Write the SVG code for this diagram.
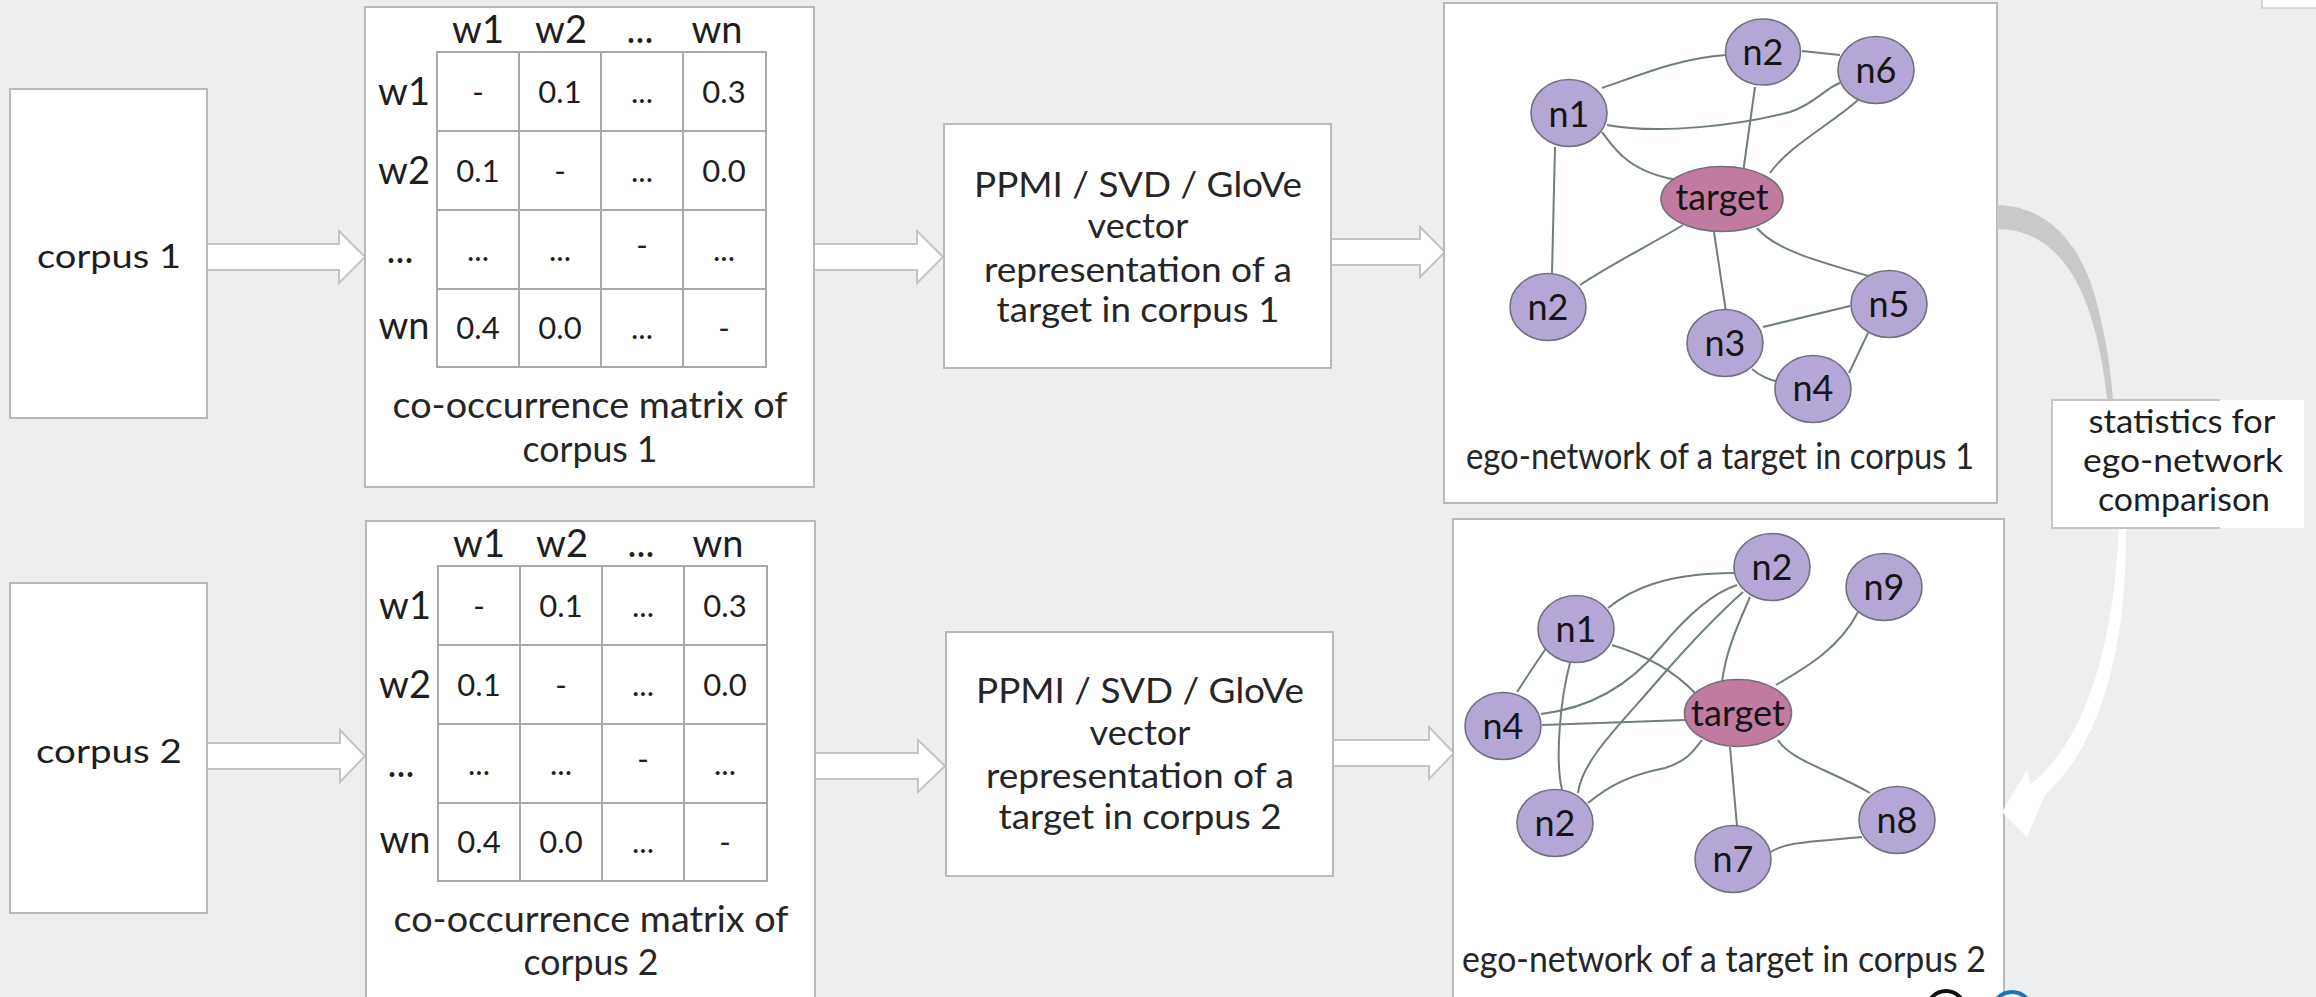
<svg xmlns="http://www.w3.org/2000/svg" width="2316" height="997" viewBox="0 0 2316 997">
  <style>
    .bg { fill: #edeef0; }
    .box { fill: #ffffff; stroke: #b9b9b9; stroke-width: 2; }
    .grid { fill: none; stroke: #a9a9a9; stroke-width: 2; }
    .block { fill: #ffffff; stroke: #c4c4c4; stroke-width: 2; stroke-linejoin: miter; }
    .txt { font-family: "Lato", "Liberation Sans", sans-serif; fill: #1e1e1e; text-anchor: middle; }
    .thin { font-family: "Lato", "Liberation Sans", sans-serif; font-weight: 400; fill: #262626; text-anchor: middle; }
    .hdr { font-size: 38px; }
    .cell { font-size: 31px; }
    .cap { font-size: 37px; }
    .ppmi { font-size: 35px; }
    .node { fill: #b4a7d6; stroke: #70707c; stroke-width: 1.6; }
    .ego { fill: #c27ba0; stroke: #70707c; stroke-width: 1.6; }
    .nlbl { font-family: "Lato", "Liberation Sans", sans-serif; font-size: 36px; fill: #151515; text-anchor: middle; }
    .edge { fill: none; stroke: #6f7f7c; stroke-width: 2; }
  </style>

  <rect class="bg" x="0" y="0" width="2316" height="997"/>

  <!-- flow connectors: hollow block arrows -->
  <g id="connectors">
    <path class="block" d="M207,244 H339 V231 L365,257 L339,283 V270 H207 Z"/>
    <path class="block" d="M814,244 H917 V231 L943,257 L917,283 V270 H814 Z"/>
    <path class="block" d="M1331,239 H1420 V227 L1445,252 L1420,277 V265 H1331 Z"/>
    <path class="block" d="M207,743 H340 V730 L365,756 L340,782 V769 H207 Z"/>
    <path class="block" d="M815,753 H918 V740 L945,766 L918,792 V779 H815 Z"/>
    <path class="block" d="M1333,740 H1429 V727 L1454,753 L1429,779 V766 H1333 Z"/>
  </g>

  <!-- corpus inputs -->
  <g id="corpus1">
    <rect class="box" x="10" y="89" width="197" height="329"/>
    <text class="txt" x="109" y="268" font-size="33" textLength="144" lengthAdjust="spacingAndGlyphs">corpus 1</text>
  </g>
  <g id="corpus2">
    <rect class="box" x="10" y="583" width="197" height="330"/>
    <text class="txt" x="109" y="763" font-size="33" textLength="146" lengthAdjust="spacingAndGlyphs">corpus 2</text>
  </g>

  <!-- co-occurrence matrix, corpus 1 -->
  <g id="matrix1">
    <rect class="box" x="365" y="7" width="449" height="480"/>
    <path class="grid" d="M437,52 H766 V367 H437 Z M519,52 V367 M601,52 V367 M683,52 V367 M437,131 H766 M437,210 H766 M437,289 H766"/>
    <g class="txt hdr">
      <text x="478" y="43">w1</text><text x="561" y="43">w2</text><text x="640" y="43">...</text><text x="717" y="43">wn</text>
      <text x="404" y="105">w1</text><text x="404" y="184">w2</text><text x="400" y="263">...</text><text x="404" y="339">wn</text>
    </g>
    <g class="txt cell">
      <text x="478" y="103">-</text><text x="560" y="103">0.1</text><text x="642" y="103">...</text><text x="724" y="103">0.3</text>
      <text x="478" y="182">0.1</text><text x="560" y="182">-</text><text x="642" y="182">...</text><text x="724" y="182">0.0</text>
      <text x="478" y="261">...</text><text x="560" y="261">...</text><text x="642" y="256">-</text><text x="724" y="261">...</text>
      <text x="478" y="339">0.4</text><text x="560" y="339">0.0</text><text x="642" y="339">...</text><text x="724" y="339">-</text>
    </g>
    <text class="thin cap" x="590" y="418" textLength="395" lengthAdjust="spacingAndGlyphs">co-occurrence matrix of</text>
    <text class="thin cap" x="590" y="462" textLength="135" lengthAdjust="spacingAndGlyphs">corpus 1</text>
  </g>

  <!-- co-occurrence matrix, corpus 2 -->
  <g id="matrix2">
    <rect class="box" x="366" y="521" width="449" height="490"/>
    <path class="grid" d="M438,566 H767 V881 H438 Z M520,566 V881 M602,566 V881 M684,566 V881 M438,645 H767 M438,724 H767 M438,803 H767"/>
    <g class="txt hdr">
      <text x="479" y="557">w1</text><text x="562" y="557">w2</text><text x="641" y="557">...</text><text x="718" y="557">wn</text>
      <text x="405" y="619">w1</text><text x="405" y="698">w2</text><text x="401" y="777">...</text><text x="405" y="853">wn</text>
    </g>
    <g class="txt cell">
      <text x="479" y="617">-</text><text x="561" y="617">0.1</text><text x="643" y="617">...</text><text x="725" y="617">0.3</text>
      <text x="479" y="696">0.1</text><text x="561" y="696">-</text><text x="643" y="696">...</text><text x="725" y="696">0.0</text>
      <text x="479" y="775">...</text><text x="561" y="775">...</text><text x="643" y="770">-</text><text x="725" y="775">...</text>
      <text x="479" y="853">0.4</text><text x="561" y="853">0.0</text><text x="643" y="853">...</text><text x="725" y="853">-</text>
    </g>
    <text class="thin cap" x="591" y="932" textLength="395" lengthAdjust="spacingAndGlyphs">co-occurrence matrix of</text>
    <text class="thin cap" x="591" y="975" textLength="135" lengthAdjust="spacingAndGlyphs">corpus 2</text>
  </g>

  <!-- vector representation steps -->
  <g id="vectors1">
    <rect class="box" x="944" y="124" width="387" height="244"/>
    <g class="thin ppmi">
      <text x="1138" y="197" textLength="328" lengthAdjust="spacingAndGlyphs">PPMI / SVD / GloVe</text>
      <text x="1138" y="238" textLength="101" lengthAdjust="spacingAndGlyphs">vector</text>
      <text x="1138" y="282" textLength="308" lengthAdjust="spacingAndGlyphs">representation of a</text>
      <text x="1138" y="322" textLength="283" lengthAdjust="spacingAndGlyphs">target in corpus 1</text>
    </g>
  </g>
  <g id="vectors2">
    <rect class="box" x="946" y="632" width="387" height="244"/>
    <g class="thin ppmi">
      <text x="1140" y="703" textLength="328" lengthAdjust="spacingAndGlyphs">PPMI / SVD / GloVe</text>
      <text x="1140" y="745" textLength="101" lengthAdjust="spacingAndGlyphs">vector</text>
      <text x="1140" y="788" textLength="308" lengthAdjust="spacingAndGlyphs">representation of a</text>
      <text x="1140" y="829" textLength="283" lengthAdjust="spacingAndGlyphs">target in corpus 2</text>
    </g>
  </g>

  <!-- ego-network, corpus 1 -->
  <g id="egonet1">
    <rect class="box" x="1444" y="3" width="553" height="500"/>
    <g id="egonet1-edges">
      <path class="edge" d="M1602,88 C1640,75 1680,58 1726,55"/>
      <path class="edge" d="M1802,51 L1840,55"/>
      <path class="edge" d="M1607,125 C1660,135 1740,125 1790,112 C1815,104 1825,88 1840,83"/>
      <path class="edge" d="M1755,87 L1743,173"/>
      <path class="edge" d="M1858,100 C1830,125 1790,145 1770,173"/>
      <path class="edge" d="M1602,132 C1615,150 1630,172 1677,180"/>
      <path class="edge" d="M1555,147 L1552,273"/>
      <path class="edge" d="M1683,225 C1650,245 1615,262 1580,285"/>
      <path class="edge" d="M1714,232 L1726,312"/>
      <path class="edge" d="M1757,228 C1775,250 1820,262 1872,277"/>
      <path class="edge" d="M1763,327 L1850,306"/>
      <path class="edge" d="M1752,369 C1760,376 1770,380 1779,382"/>
      <path class="edge" d="M1868,333 L1849,373"/>
    </g>
    <g id="egonet1-nodes">
      <ellipse class="node" cx="1763" cy="52" rx="37.5" ry="33"/><text class="nlbl" x="1763" y="65">n2</text>
      <ellipse class="node" cx="1876" cy="70" rx="38" ry="33.5"/><text class="nlbl" x="1876" y="83">n6</text>
      <ellipse class="node" cx="1569" cy="113" rx="38" ry="33.5"/><text class="nlbl" x="1569" y="127">n1</text>
      <ellipse class="ego" cx="1722" cy="199" rx="61" ry="32.5"/><text class="nlbl" x="1722" y="210" font-size="38" textLength="93" lengthAdjust="spacingAndGlyphs">target</text>
      <ellipse class="node" cx="1548" cy="307" rx="38" ry="33.5"/><text class="nlbl" x="1548" y="320">n2</text>
      <ellipse class="node" cx="1889" cy="304" rx="38" ry="33.5"/><text class="nlbl" x="1889" y="317">n5</text>
      <ellipse class="node" cx="1725" cy="343" rx="38" ry="33.5"/><text class="nlbl" x="1725" y="356">n3</text>
      <ellipse class="node" cx="1813" cy="389" rx="38" ry="33.5"/><text class="nlbl" x="1813" y="401">n4</text>
    </g>
    <text class="thin cap" x="1720" y="469" font-size="35" textLength="508" lengthAdjust="spacingAndGlyphs">ego-network of a target in corpus 1</text>
  </g>

  <!-- ego-network, corpus 2 -->
  <g id="egonet2">
    <rect class="box" x="1453" y="519" width="551" height="492"/>
    <g id="egonet2-edges">
      <path class="edge" d="M1608,608 C1630,590 1665,573 1734,573"/>
      <path class="edge" d="M1547,647 C1538,660 1528,675 1517,692"/>
      <path class="edge" d="M1570,663 C1560,700 1555,760 1562,790"/>
      <path class="edge" d="M1612,645 C1645,655 1675,672 1695,693"/>
      <path class="edge" d="M1541,714 C1590,708 1630,685 1660,648 C1690,612 1715,592 1737,585"/>
      <path class="edge" d="M1542,725 L1685,720"/>
      <path class="edge" d="M1578,793 C1582,760 1620,725 1660,678 C1700,632 1725,608 1743,592"/>
      <path class="edge" d="M1750,597 C1738,625 1726,650 1722,682"/>
      <path class="edge" d="M1588,803 C1610,785 1630,775 1665,768 C1690,760 1695,748 1702,740"/>
      <path class="edge" d="M1776,685 C1805,668 1840,648 1858,612"/>
      <path class="edge" d="M1730,747 L1737,826"/>
      <path class="edge" d="M1778,740 C1790,760 1830,770 1870,793"/>
      <path class="edge" d="M1771,852 C1785,842 1810,842 1862,837"/>
    </g>
    <g id="egonet2-nodes">
      <ellipse class="node" cx="1772" cy="567" rx="38" ry="33.5"/><text class="nlbl" x="1772" y="580">n2</text>
      <ellipse class="node" cx="1884" cy="587" rx="38" ry="33.5"/><text class="nlbl" x="1884" y="600">n9</text>
      <ellipse class="node" cx="1576" cy="629" rx="38" ry="33.5"/><text class="nlbl" x="1576" y="642">n1</text>
      <ellipse class="node" cx="1503" cy="726" rx="38" ry="33.5"/><text class="nlbl" x="1503" y="739">n4</text>
      <ellipse class="ego" cx="1738" cy="713" rx="53.5" ry="33.5"/><text class="nlbl" x="1738" y="726" font-size="38" textLength="94" lengthAdjust="spacingAndGlyphs">target</text>
      <ellipse class="node" cx="1555" cy="823" rx="38" ry="33.5"/><text class="nlbl" x="1555" y="836">n2</text>
      <ellipse class="node" cx="1733" cy="859" rx="38" ry="33.5"/><text class="nlbl" x="1733" y="872">n7</text>
      <ellipse class="node" cx="1897" cy="820" rx="38" ry="33.5"/><text class="nlbl" x="1897" y="833">n8</text>
    </g>
    <text class="thin cap" x="1724" y="972" font-size="35" textLength="524" lengthAdjust="spacingAndGlyphs">ego-network of a target in corpus 2</text>
  </g>

  <!-- comparison arcs between the two ego-networks -->
  <g id="comparison-arcs">
    <path fill="#c9c9c9" d="M1997,205 C2045,206 2080,240 2096,300 C2106,338 2111,370 2113,400 L2107,400 C2104,370 2099,342 2090,314 C2076,270 2048,229 1997,229 Z"/>
    <path fill="#ffffff" d="M2119,528 L2126,528 C2127,650 2100,745 2045,795 L2027,837 L2002,812 L2027,770 L2031,784 C2085,740 2113,650 2119,528 Z"/>
  </g>

  <g id="statistics">
    <rect x="2052" y="400" width="252" height="128" fill="#ffffff"/>
    <path d="M2220,400 H2052 V528 H2220" fill="none" stroke="#c4c4c4" stroke-width="2"/>
    <g class="txt" font-size="33">
      <text x="2182" y="433" textLength="187" lengthAdjust="spacingAndGlyphs">statistics for</text>
      <text x="2183" y="472" textLength="200" lengthAdjust="spacingAndGlyphs">ego-network</text>
      <text x="2184" y="511" textLength="172" lengthAdjust="spacingAndGlyphs">comparison</text>
    </g>
  </g>

  <!-- page furniture at the edges -->
  <rect x="2262" y="-10" width="60" height="18" fill="#ffffff" stroke="#cccccc" stroke-width="1.5"/>
  <circle cx="1946" cy="1010" r="19" fill="#ffffff" stroke="#111111" stroke-width="4"/>
  <circle cx="2012" cy="1012" r="20" fill="#ffffff" stroke="#1b75bb" stroke-width="4"/>
</svg>
